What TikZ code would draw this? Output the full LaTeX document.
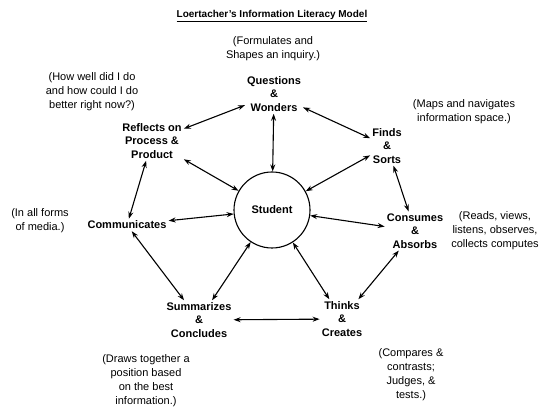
\documentclass[tikz,border=0pt]{standalone}
\usepackage{fontspec}
\setmainfont{Liberation Sans}
\usetikzlibrary{arrows.meta}
\begin{document}
\begin{tikzpicture}[x=1pt,y=-1pt,
  lbl/.style={align=center,inner sep=2pt,font=\fontsize{11}{13.5}\selectfont\bfseries},
  note/.style={align=center,inner sep=1pt,font=\fontsize{11}{14}\selectfont},
  link/.style={{Stealth[length=7pt,width=5pt]}-{Stealth[length=7pt,width=5pt]},line width=1.1pt}]
\useasboundingbox (0,0) rectangle (544,411);
\node[font=\fontsize{10}{12}\selectfont\bfseries] (title) at (272,16) {\underline{Loertacher's Information Literacy Model}};
\node[note] (nq) at (273,49) {(Formulates and\\Shapes an inquiry.)};
\node[note] (nr) at (92,92) {(How well did I do\\and how could I do\\better right now?)};
\node[note] (nf) at (464,112) {(Maps and navigates\\information space.)};
\node[note] (nc) at (495,231) {(Reads, views,\\listens, observes,\\collects computes};
\node[note] (nm) at (40,221) {(In all forms\\of media.)};
\node[note] (ns) at (146,381) {(Draws together a\\position based\\on the best\\information.)};
\node[note] (nt) at (411,375) {(Compares \&\\contrasts;\\Judges, \&\\tests.)};
\node[lbl] (q) at (274,94) {Questions\\\&\\Wonders};
\node[lbl] (r) at (152,141) {Reflects on\\Process \&\\Product};
\node[lbl] (f) at (387,146) {Finds\\\&\\Sorts};
\node[lbl] (c) at (415,231) {Consumes\\\&\\Absorbs};
\node[lbl] (m) at (127,225) {Communicates};
\node[lbl] (s) at (199,320) {Summarizes\\\&\\Concludes};
\node[lbl] (t) at (342,319) {Thinks\\\&\\Creates};
\node[circle,draw,line width=1.1pt,minimum size=76pt,inner sep=0pt,font=\fontsize{11}{13}\selectfont\bfseries] (st) at (272,210) {Student};
\draw[link] (q) -- (st);
\draw[link] (r) -- (q);
\draw[link] (q) -- (f);
\draw[link] (f) -- (st);
\draw[link] (f) -- (c);
\draw[link] (r) -- (st);
\draw[link] (r) -- (m);
\draw[link] (m) -- (st);
\draw[link] (m) -- (s);
\draw[link] (st) -- (s);
\draw[link] (st) -- (t);
\draw[link] (st) -- (c);
\draw[link] (t) -- (c);
\draw[link] (s) -- (t);
\end{tikzpicture}
\end{document}
